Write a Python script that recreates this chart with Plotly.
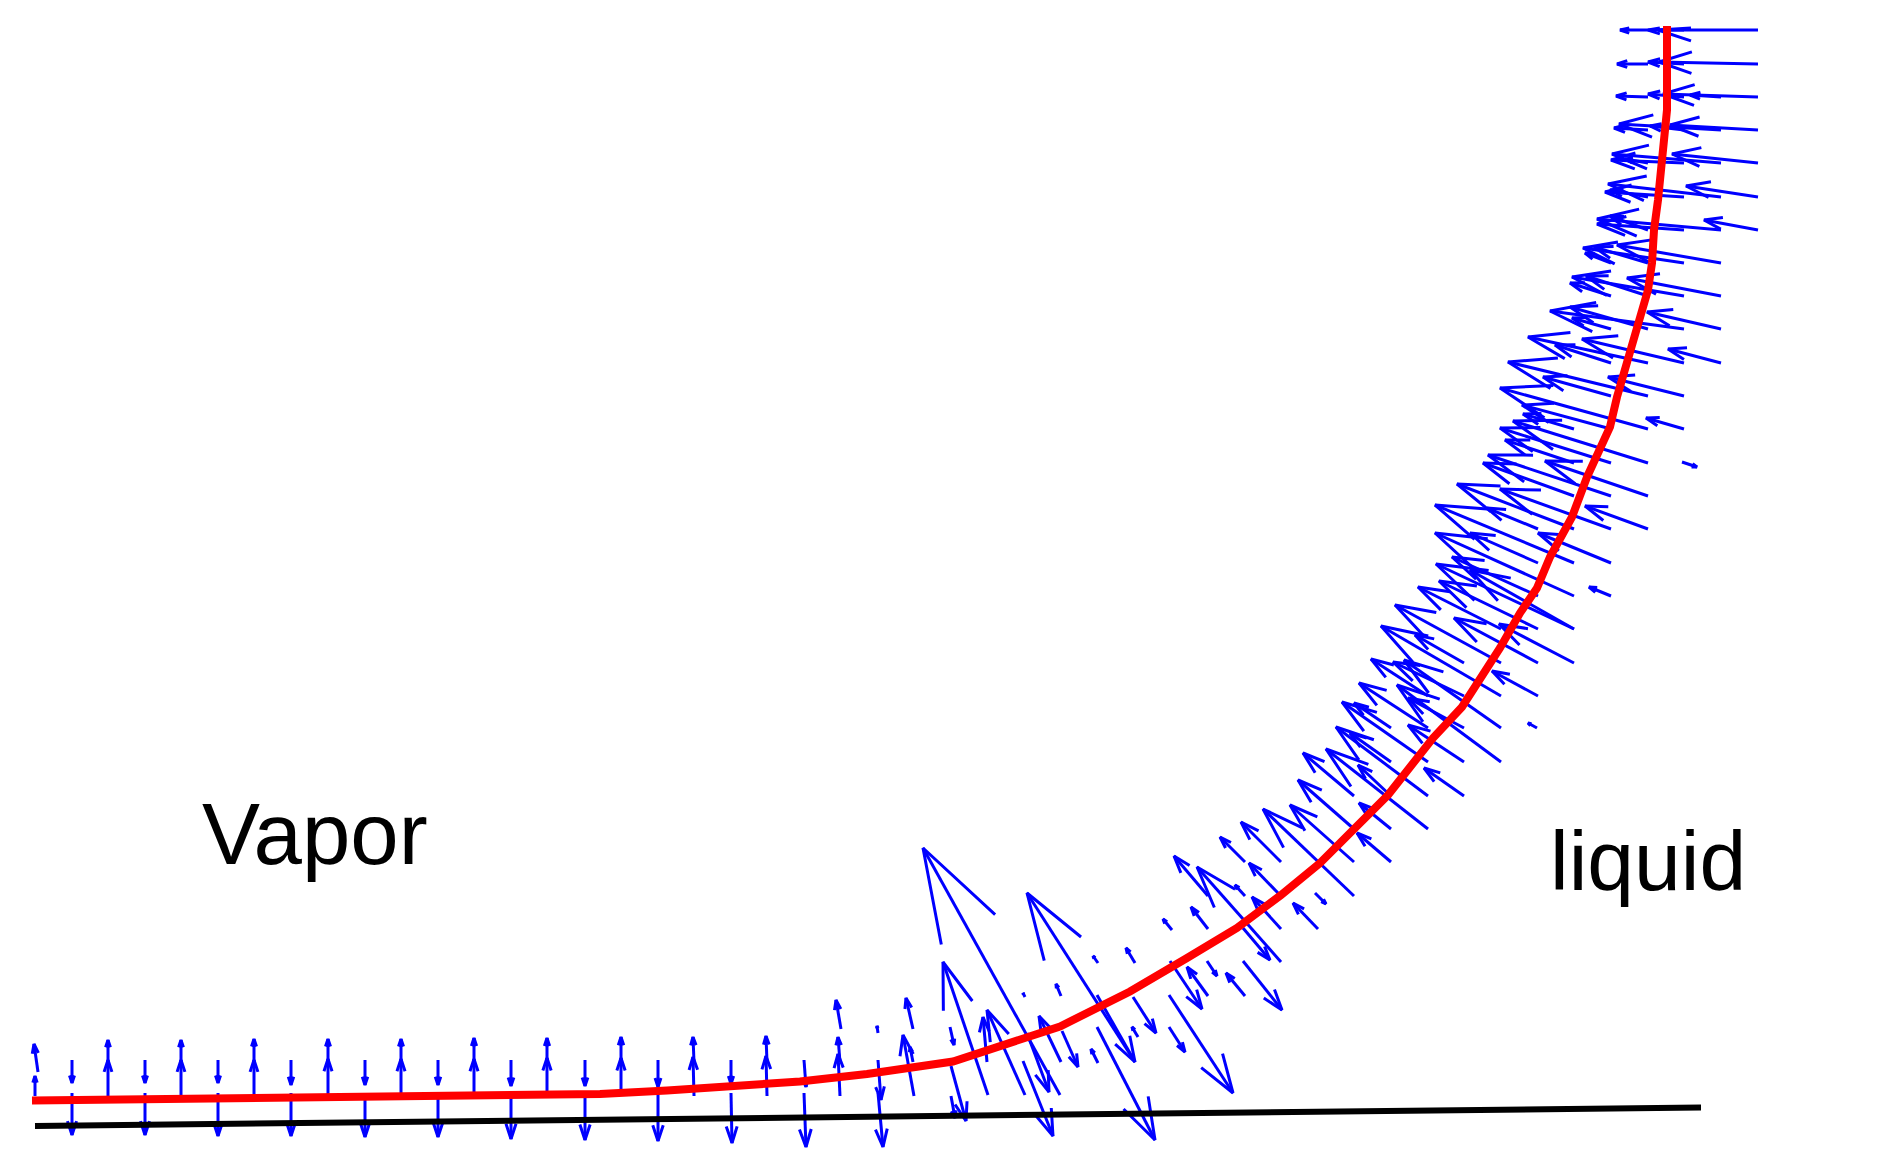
import numpy as np
import plotly.graph_objects as go

# interface and wall (pixel-like units, y pointing down)
interface_x = [32, 260, 500, 600, 667, 733, 800, 867, 953, 1060, 1130, 1187, 1237, 1281, 1320, 1388, 1433,
               1462, 1500, 1520, 1537, 1550, 1572, 1587, 1610, 1617, 1637, 1643, 1648, 1652, 1654, 1658,
               1662, 1665, 1667, 1667]
interface_y = [1100.5, 1098.5, 1096, 1094, 1090.5, 1087, 1081.5, 1074, 1061.5, 1026.5, 991.5, 958, 928, 895,
               863, 795, 738, 707, 648, 613, 588, 557, 517, 477, 427, 397, 327, 307, 290, 263, 230, 200,
               167, 130, 110, 26]
wall_x = [35, 1701]
wall_y = [1126, 1107.5]

# velocity arrows, one line per row of the grid
tail_x = [
    1758, 1684, 1648,
    1758, 1684, 1648,
    1758, 1721, 1684, 1648,
    1758, 1721, 1684, 1648,
    1758, 1721, 1684, 1648,
    1758, 1721, 1684, 1648,
    1758, 1721, 1684, 1648,
    1721, 1684, 1648, 1611,
    1721, 1684, 1648, 1611,
    1721, 1684, 1648, 1611,
    1721, 1684, 1648, 1611,
    1684, 1648, 1611,
    1684, 1648, 1611, 1574,
    1682, 1648, 1611, 1574,
    1648, 1611, 1574,
    1648, 1611, 1574, 1538,
    1611, 1574, 1538,
    1611, 1574, 1538,
    1574, 1574, 1538, 1501,
    1574, 1538, 1501, 1464,
    1538, 1501, 1464, 1428,
    1537, 1501, 1464, 1428, 1391,
    1501, 1464, 1428, 1391,
    1464, 1428, 1391, 1354,
    1428, 1391, 1354,
    1391, 1354, 1281, 1245,
    1354, 1278, 1245, 1208, 1315,
    1318, 1281, 1243, 1208, 1172,
    1281, 1243, 1207, 1170, 1135, 1098,
    1245, 1208, 1169, 1133, 1097, 1061, 1025,
    1169, 1138, 1097, 1062, 1027, 950, 913, 878, 841,
    1135, 1098, 1061, 1023, 987, 951, 913, 878, 840, 804, 767, 731, 694, 658, 621, 585, 547, 511, 474, 438,
    401, 365, 328, 291, 254, 218, 181, 145, 108, 72, 38,
    1060, 1025, 988, 951, 914, 878, 840, 804, 767, 731, 694, 658, 621, 585, 547, 511, 474, 438,
    401, 365, 328, 291, 254, 218, 181, 145, 108, 72, 35,
]
tail_y = [
    30, 30, 30,
    64, 64, 64,
    97, 97, 97, 97,
    130, 130, 130, 130,
    163, 163, 163, 163,
    197, 197, 197, 197,
    230, 230, 230, 230,
    263, 263, 263, 263,
    296, 296, 296, 296,
    329, 329, 329, 329,
    363, 363, 363, 363,
    396, 396, 396,
    429, 429, 429, 429,
    462, 463, 463, 463,
    496, 496, 496,
    529, 529, 529, 529,
    563, 563, 563,
    596, 596, 596,
    629, 629, 629, 629,
    663, 663, 663, 663,
    696, 696, 696, 696,
    728, 728, 728, 728, 728,
    762, 762, 762, 762,
    796, 796, 796, 796,
    829, 829, 829,
    862, 862, 862, 862,
    896, 893, 896, 896, 893,
    929, 929, 928, 929, 930,
    962, 961, 961, 961, 963, 963,
    996, 996, 995, 997, 995, 996, 997,
    1027, 1037, 1027, 1031, 1033, 1027, 1029, 1033, 1029,
    1062, 1063, 1062, 1061, 1062, 1066, 1062, 1060, 1062, 1060, 1062, 1060, 1062, 1060, 1062, 1060, 1062, 1060, 1062, 1060,
    1062, 1060, 1062, 1060, 1062, 1060, 1062, 1060, 1062, 1060, 1072,
    1095, 1095, 1095, 1096, 1096, 1093, 1096, 1093, 1096, 1093, 1096, 1093, 1096, 1093, 1096, 1093, 1096, 1093,
    1096, 1093, 1096, 1093, 1096, 1093, 1096, 1093, 1096, 1093, 1096,
]
tip_x = [
    1658, 1648, 1620,
    1659, 1648, 1617,
    1663, 1690, 1648, 1616,
    1670, 1619, 1650, 1614,
    1672, 1612, 1611, 1625,
    1686, 1608, 1605, 1610,
    1704, 1597, 1597, 1610,
    1617, 1583, 1594, 1585,
    1627, 1572, 1586, 1570,
    1647, 1550, 1570, 1572,
    1668, 1582, 1528, 1555,
    1608, 1508, 1543,
    1646, 1500, 1522, 1523,
    1697, 1513, 1500, 1505,
    1545, 1488, 1483,
    1585, 1500, 1457, 1487,
    1538, 1435, 1470,
    1589, 1435, 1452,
    1436, 1470, 1439, 1418,
    1499, 1454, 1395, 1415,
    1492, 1381, 1393, 1371,
    1528, 1404, 1408, 1359, 1354,
    1397, 1408, 1342, 1350,
    1424, 1336, 1358, 1303,
    1326, 1359, 1298,
    1357, 1290, 1241, 1220,
    1263, 1249, 1235, 1174, 1326,
    1293, 1252, 1270, 1191, 1163,
    1197, 1282, 1217, 1202, 1126, 1093,
    1226, 1187, 1233, 1156, 1135, 1056, 1023,
    1185, 1132, 1155, 1078, 1049, 954, 906, 877, 836,
    1027, 1091, 1039, 1053, 983, 966, 910, 881, 838, 806, 766, 731, 693, 658, 621, 585, 547, 511, 474, 438,
    401, 365, 328, 291, 254, 218, 181, 145, 108, 72, 34,
    923, 987, 943, 955, 903, 883, 838, 806, 766, 732, 693, 658, 621, 585, 547, 511, 474, 438,
    401, 365, 328, 291, 254, 218, 181, 145, 108, 72, 35,
]
tip_y = [
    30, 30, 30,
    62, 62, 64,
    94, 95, 94, 96,
    125, 124, 126, 128,
    154, 154, 160, 159,
    186, 184, 192, 190,
    220, 219, 224, 216,
    245, 248, 247, 253,
    278, 277, 276, 283,
    312, 311, 307, 318,
    349, 339, 337, 345,
    377, 362, 377,
    418, 388, 405, 414,
    467, 421, 428, 440,
    461, 455, 463,
    506, 489, 484, 508,
    533, 505, 533,
    587, 533, 557,
    564, 570, 581, 587,
    624, 618, 605, 635,
    671, 626, 662, 659,
    723, 660, 698, 683, 703,
    685, 725, 702, 733,
    768, 727, 765, 753,
    749, 803, 780,
    833, 805, 822, 837,
    809, 863, 885, 856, 904,
    903, 897, 960, 907, 919,
    867, 1010, 976, 1009, 948, 956,
    973, 967, 1093, 1033, 1062, 984, 993,
    1052, 1027, 1140, 1067, 1092, 1045, 998, 1026, 1000,
    893, 1049, 1016, 1136, 1017, 1121, 1047, 1100, 1037, 1087, 1036, 1084, 1037, 1087, 1037, 1086, 1038, 1086, 1038, 1085,
    1039, 1085, 1039, 1085, 1039, 1083, 1040, 1083, 1040, 1083, 1044,
    848, 1010, 962, 1118, 1035, 1147, 1054, 1147, 1056, 1143, 1057, 1141, 1058, 1140, 1058, 1139, 1059, 1137,
    1059, 1137, 1059, 1136, 1060, 1136, 1060, 1135, 1060, 1135, 1076,
]

HEAD_LEN = 0.33
HEAD_SPREAD = 0.33
TOP_LIMIT = 28

tx, ty = np.array(tail_x, float), np.array(tail_y, float)
u, v = np.array(tip_x, float) - tx, np.array(tip_y, float) - ty

# shaft + two barbs for each arrow, drawn as one line trace
arrow_x, arrow_y = [], []
for x0, y0, du, dv in zip(tx, ty, u, v):
    x1, y1 = x0 + du, y0 + dv
    bx1 = x1 - HEAD_LEN * (du + HEAD_SPREAD * dv)
    by1 = y1 - HEAD_LEN * (dv - HEAD_SPREAD * du)
    bx2 = x1 - HEAD_LEN * (du - HEAD_SPREAD * dv)
    by2 = y1 - HEAD_LEN * (dv + HEAD_SPREAD * du)
    arrow_x += [x0, x1, None, bx1, x1, bx2, None]
    arrow_y += [max(y0, TOP_LIMIT), max(y1, TOP_LIMIT), None,
                max(by1, TOP_LIMIT), max(y1, TOP_LIMIT), max(by2, TOP_LIMIT), None]

fig = go.Figure()

fig.add_trace(go.Scatter(x=arrow_x, y=arrow_y, mode="lines", connectgaps=False,
                         line=dict(color="#0000ff", width=3)))
fig.add_trace(go.Scatter(x=wall_x, y=wall_y, mode="lines",
                         line=dict(color="#000000", width=6)))
fig.add_trace(go.Scatter(x=interface_x, y=interface_y, mode="lines",
                         line=dict(color="#ff0000", width=8)))

for label, lx, ly, size in [("Vapor", 200, 884, 87), ("liquid", 1548, 910, 84)]:
    fig.add_annotation(x=lx, y=ly, text=label, showarrow=False, xanchor="left", yanchor="bottom",
                       font=dict(family="Liberation Sans", size=size, color="#000000"))

fig.update_layout(
    width=1902, height=1168,
    margin=dict(l=0, r=0, t=0, b=0),
    paper_bgcolor="white", plot_bgcolor="white",
    showlegend=False,
)
fig.update_xaxes(range=[0, 1902], visible=False)
fig.update_yaxes(range=[1168, 0], visible=False)

fig.write_html("out.html", config=dict(displayModeBar=False),
               post_script="document.body.style.margin='0';")
